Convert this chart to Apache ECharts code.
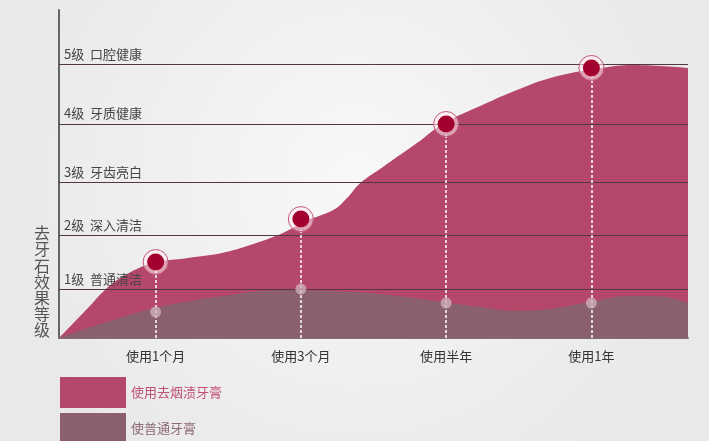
<!DOCTYPE html>
<html>
<head>
<meta charset="utf-8">
<script src="https://cdn.jsdelivr.net/npm/echarts@6/dist/echarts.min.js"></script>
<style>
  html, body { margin: 0; padding: 0; }
  #main { width: 709px; height: 441px; }
</style>
</head>
<body>
<div id="main"></div>
<script>
// 去牙石效果等级 面积图
var categories = ['使用1个月', '使用3个月', '使用半年', '使用1年'];
var levelNames = ['1级  普通清洁', '2级  深入清洁', '3级  牙齿亮白', '4级  牙质健康', '5级  口腔健康'];
var levelValues = [17.8, 37.6, 56.9, 78.3, 100];
var yName = '去牙石效果等级';
var seriesNames = ['使用去烟渍牙膏', '使普通牙膏'];

// 使用去烟渍牙膏 曲线 (x: 0-100 横向位置, y: 效果值)
var premiumX = [0, 4.6, 7.3, 10.0, 14.9, 20.5, 25.9, 30.4, 35.6, 39.0, 43.6, 45.8, 47.9, 51.5, 56.9, 61.0, 67.4, 72.8, 78.1, 84.4, 91.3, 100];
var premiumY = [0, 11.0, 17.6, 22.3, 27.4, 29.3, 31.1, 34.0, 38.4, 42.6, 46.8, 51.2, 56.7, 62.6, 71.3, 78.3, 85.3, 90.7, 95.1, 98.1, 99.9, 98.8];
// 使普通牙膏 曲线
var normalX = [0, 5.0, 15.3, 26.0, 35.0, 47.0, 56.3, 66.9, 72.2, 78.0, 84.4, 90.8, 96.0, 100];
var normalY = [0, 4.0, 11.0, 15.4, 17.5, 16.8, 14.6, 11.3, 9.9, 10.6, 13.2, 15.4, 15.2, 12.8];
// 各时间点标记
var premiumPoints = [27.8, 43.5, 78.3, 98.8];
var normalPoints = [9.5, 17.9, 12.8, 12.8];

function zip(xs, ys) {
    return xs.map(function (x, i) { return [x, ys[i]]; });
}

var font = 'Noto Sans CJK SC';
var myChart = echarts.init(document.getElementById('main'));
var option = {
    animation: false,
    backgroundColor: {
        type: 'radial', x: 0.5, y: 0.4, r: 0.8,
        colorStops: [{offset: 0, color: '#f8f8f8'}, {offset: 1, color: '#e9e9e9'}]
    },
    textStyle: {fontFamily: font},
    title: {
        text: yName.split('').join('\n'),
        left: 34,
        top: 225,
        padding: 0,
        textStyle: {fontSize: 16, lineHeight: 16.2, color: '#555', fontWeight: 'normal', fontFamily: font}
    },
    legend: {
        orient: 'vertical',
        left: 60,
        top: 377,
        height: 90,
        padding: 0,
        itemWidth: 66,
        itemHeight: 31,
        itemGap: 5,
        icon: 'rect',
        selectedMode: false,
        textStyle: {fontSize: 13, fontFamily: font},
        data: [
            {name: seriesNames[0], textStyle: {color: '#c0507a'}},
            {name: seriesNames[1], textStyle: {color: '#8c6874'}}
        ]
    },
    grid: [
        {left: 59, right: 21, top: 10, bottom: 103},
        {left: 83, right: 45, top: 10, bottom: 103}
    ],
    xAxis: [
        {
            gridIndex: 0, type: 'value', min: 0, max: 100,
            axisLine: {show: true, lineStyle: {color: '#7d7077', width: 2}},
            axisTick: {show: false}, axisLabel: {show: false}, splitLine: {show: false}
        },
        {
            gridIndex: 1, type: 'category', data: categories, boundaryGap: true,
            axisLine: {show: false}, axisTick: {show: false}, splitLine: {show: false},
            axisLabel: {color: '#333', fontSize: 13, margin: 12, fontFamily: font}
        }
    ],
    yAxis: [
        {
            gridIndex: 0, type: 'value', min: 0, max: 120,
            axisLine: {show: true, lineStyle: {color: '#666', width: 2}},
            axisTick: {show: false}, axisLabel: {show: false}, splitLine: {show: false}
        },
        {
            gridIndex: 1, type: 'value', min: 0, max: 120, show: false
        }
    ],
    series: [
        {
            // 等级线 + 文字 (在面积下方)
            type: 'line', xAxisIndex: 0, yAxisIndex: 0, z: 1,
            data: [[0, 0]], symbol: 'none', lineStyle: {opacity: 0},
            markLine: {
                silent: true, symbol: ['none', 'none'],
                lineStyle: {color: '#5a5a5a', width: 1, type: 'solid'},
                label: {show: true, position: 'insideStartTop', distance: [5, 4], color: '#444', fontSize: 13, fontFamily: font},
                data: levelValues.map(function (v, i) {
                    return {yAxis: v, label: {formatter: levelNames[i]}};
                })
            }
        },
        {
            name: seriesNames[0], type: 'line', xAxisIndex: 0, yAxisIndex: 0, z: 2,
            data: zip(premiumX, premiumY), smooth: 0.4,
            symbol: 'none', lineStyle: {width: 0},
            itemStyle: {color: '#b5486a'},
            areaStyle: {color: '#b5486a', opacity: 1}
        },
        {
            name: seriesNames[1], type: 'line', xAxisIndex: 0, yAxisIndex: 0, z: 3,
            data: zip(normalX, normalY), smooth: 0.35,
            symbol: 'none', lineStyle: {width: 0},
            itemStyle: {color: '#89606c'},
            areaStyle: {color: '#89606c', opacity: 1}
        },
        {
            // 等级线 (在面积上方)
            type: 'line', xAxisIndex: 0, yAxisIndex: 0, z: 4,
            data: [[0, 0]], symbol: 'none', lineStyle: {opacity: 0},
            markLine: {
                silent: true, symbol: ['none', 'none'],
                lineStyle: {color: 'rgba(70,0,25,0.4)', width: 1, type: 'solid'},
                label: {show: false},
                data: levelValues.map(function (v) { return {yAxis: v}; })
            }
        },
        {
            // 普通牙膏 灰点 + 虚线
            type: 'scatter', xAxisIndex: 1, yAxisIndex: 1, z: 6,
            data: normalPoints, symbolSize: 11,
            itemStyle: {color: 'rgba(205,175,185,0.8)', opacity: 1},
            markLine: {
                silent: true, symbol: ['none', 'none'],
                lineStyle: {color: '#fff', width: 1.5, type: [3, 2]},
                label: {show: false},
                data: premiumPoints.map(function (v, i) {
                    return [{coord: [i, 0]}, {coord: [i, v]}];
                })
            }
        },
        {
            type: 'scatter', xAxisIndex: 1, yAxisIndex: 1, z: 7,
            data: premiumPoints, symbolSize: 25,
            itemStyle: {color: 'rgba(255,235,240,0.55)', borderColor: '#c2587a', borderWidth: 1, opacity: 1}
        },
        {
            type: 'scatter', xAxisIndex: 1, yAxisIndex: 1, z: 8,
            data: premiumPoints, symbolSize: 17,
            itemStyle: {color: '#a3012f', opacity: 1}
        }
    ]
};
myChart.setOption(option);
window.onresize = myChart.resize;
</script>
</body>
</html>
